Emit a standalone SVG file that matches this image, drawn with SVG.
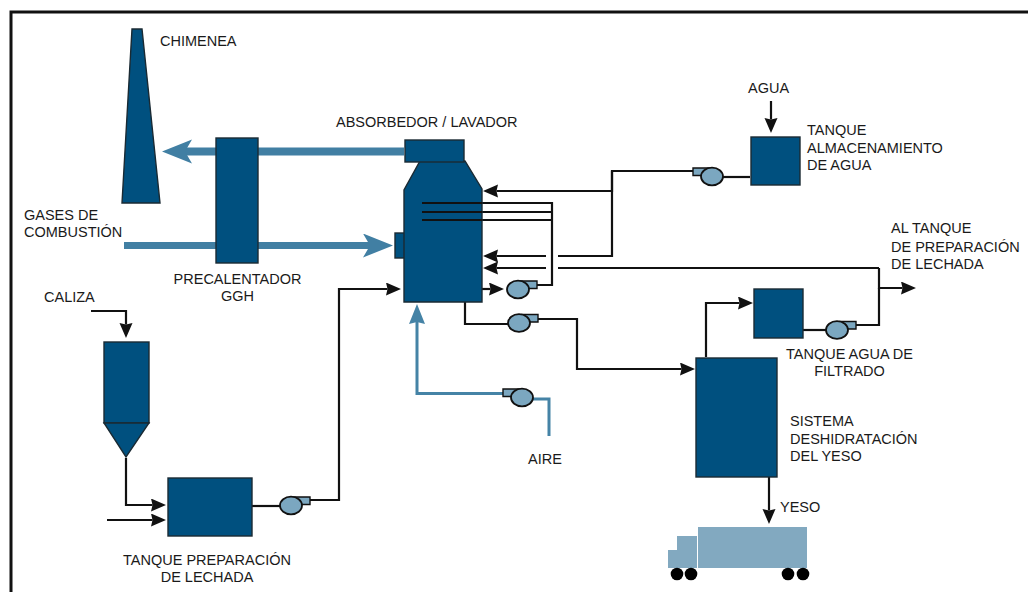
<svg xmlns="http://www.w3.org/2000/svg" width="1028" height="592" viewBox="0 0 1028 592">
<style>
.eq{fill:#00507f;stroke:#1a2a33;stroke-width:1.4}
.ln{fill:none;stroke:#111;stroke-width:2.2}
.bl{fill:none;stroke:#4583a6;stroke-width:3}
.gas{fill:none;stroke:#417fa3}
.pb{fill:#7ba7c0;stroke:#111;stroke-width:1.8}
.pn{fill:#7ba7c0;stroke:#111;stroke-width:1.4}
.tr{fill:#82a9c0}
text{font-family:"Liberation Sans",Arial,sans-serif;font-size:14.5px;fill:#1a1a1a}
.c{text-anchor:middle}
</style>
<defs>
<marker id="a" markerUnits="userSpaceOnUse" markerWidth="16" markerHeight="16" refX="1.5" refY="6.5" orient="auto"><path d="M0 0L15 6.5L0 13L1.5 6.5Z" fill="#111"/></marker>
<marker id="b" markerUnits="userSpaceOnUse" markerWidth="22" markerHeight="18" refX="2" refY="8" orient="auto"><path d="M0 0L20 8L0 16L2 8Z" fill="#4583a6"/></marker>
<marker id="g" markerUnits="userSpaceOnUse" markerWidth="32" markerHeight="26" refX="7" refY="12" orient="auto"><path d="M0 0L30 12L0 24L7 12Z" fill="#417fa3"/></marker>
<g id="pump"><path class="pn" d="M3 -8.5H19V-1H8Z"/><ellipse class="pb" cx="0" cy="0" rx="11" ry="8.8"/></g>
<g id="pumpL"><path class="pn" d="M-3 -8.5H-19V-1H-8Z"/><ellipse class="pb" cx="0" cy="0" rx="11" ry="8.8"/></g>
</defs>
<rect id="frame" x="11" y="12" width="1020" height="590" fill="none" stroke="#111" stroke-width="3"/>
<g id="connectors">
<path class="gas" stroke-width="8" d="M404 151.5H185" marker-end="url(#g)"/>
<path class="gas" stroke-width="7" d="M124 245.5H370" marker-end="url(#g)"/>
<path class="ln" d="M612 171V256H558"/>
<path class="ln" d="M694 171H612V191H496.5" marker-end="url(#a)"/>
<path class="ln" d="M546 256H496.5" marker-end="url(#a)"/>
<path class="ln" d="M546 268H496.5" marker-end="url(#a)"/>
<path class="ln" d="M558 268H879"/>
<path class="ln" d="M422 203H552V285H537M422 212H552M422 220H552"/>
<path class="ln" d="M482 289H490.5" marker-end="url(#a)"/>
<path class="ln" d="M465 302V324H508"/>
<path class="ln" d="M537 319H577V369H681.5" marker-end="url(#a)"/>
<path class="ln" d="M750 177H722"/>
<path class="ln" d="M771 101V119.5" marker-end="url(#a)"/>
<path class="ln" d="M91 311H126V324.5" marker-end="url(#a)"/>
<path class="ln" d="M126 458V505H152.5" marker-end="url(#a)"/>
<path class="ln" d="M107 520H152.5" marker-end="url(#a)"/>
<path class="ln" d="M252 506H281"/>
<path class="ln" d="M309 500H339V289H387.5" marker-end="url(#a)"/>
<path class="bl" d="M532 399H549V436"/>
<path class="bl" d="M505 393.5H417V322" marker-end="url(#b)"/>
<path class="ln" d="M706 357V303H739.5" marker-end="url(#a)"/>
<path class="ln" d="M803 330H827"/>
<path class="ln" d="M855 325H879V288"/>
<path class="ln" d="M879 268V288H902.5" marker-end="url(#a)"/>
<path class="ln" d="M769 477V510.5" marker-end="url(#a)"/>
</g>
<g id="chimenea"><path class="eq" d="M132 29H142L160 203H122Z"/></g>
<g id="ggh"><rect class="eq" x="216" y="138" width="42" height="125"/></g>
<g id="absorbedor">
<rect class="eq" x="395" y="233" width="10" height="25"/>
<path class="eq" d="M420 161H465L482 189V302H404V190Z"/>
<rect class="eq" x="405" y="140" width="59" height="22"/>
<path d="M422 203H482M422 212H482M422 220H482" stroke="#111" stroke-width="2.2"/>
</g>
<g id="tanque-agua"><rect class="eq" x="751" y="137" width="49" height="48"/></g>
<g id="silo"><rect class="eq" x="104" y="342" width="45" height="81"/><path class="eq" d="M104 423H149L126 457Z"/></g>
<g id="tanque-lechada"><rect class="eq" x="168" y="478" width="84" height="58"/></g>
<g id="tanque-filtrado"><rect class="eq" x="754" y="289" width="49" height="49"/></g>
<g id="sistema-yeso"><rect class="eq" x="696" y="358" width="81" height="119"/></g>
<g id="bombas">
<use href="#pump" x="518" y="289.5"/>
<use href="#pump" x="519" y="323"/>
<use href="#pumpL" x="712" y="176.5"/>
<use href="#pumpL" x="522" y="397.5"/>
<use href="#pump" x="291" y="505.5"/>
<use href="#pump" x="837" y="330"/>
</g>
<g id="camion">
<rect class="tr" x="698" y="527" width="109" height="41"/>
<path class="tr" d="M668 568V550H677V536H697V568Z"/>
<g fill="#000"><circle cx="677" cy="574" r="6.3"/><circle cx="691" cy="574" r="6.3"/><circle cx="788" cy="574" r="6.3"/><circle cx="803" cy="574" r="6.3"/></g>
</g>
<g id="labels">
<text x="160" y="46">CHIMENEA</text>
<text x="336" y="127">ABSORBEDOR / LAVADOR</text>
<text x="748" y="93">AGUA</text>
<text x="807" y="135">TANQUE</text>
<text x="807" y="153">ALMACENAMIENTO</text>
<text x="807" y="170">DE AGUA</text>
<text x="24" y="220">GASES DE</text>
<text x="24" y="237">COMBUSTIÓN</text>
<text x="237.5" y="284" class="c">PRECALENTADOR</text>
<text x="237.5" y="301" class="c">GGH</text>
<text x="44" y="302">CALIZA</text>
<text x="891" y="233">AL TANQUE</text>
<text x="891" y="252">DE PREPARACIÓN</text>
<text x="891" y="269">DE LECHADA</text>
<text x="849.5" y="359" class="c">TANQUE AGUA DE</text>
<text x="849.5" y="376" class="c">FILTRADO</text>
<text x="790" y="426">SISTEMA</text>
<text x="790" y="444">DESHIDRATACIÓN</text>
<text x="790" y="461">DEL YESO</text>
<text x="528" y="464">AIRE</text>
<text x="780" y="512">YESO</text>
<text x="207" y="565" class="c">TANQUE PREPARACIÓN</text>
<text x="207" y="582" class="c">DE LECHADA</text>
</g>
</svg>
